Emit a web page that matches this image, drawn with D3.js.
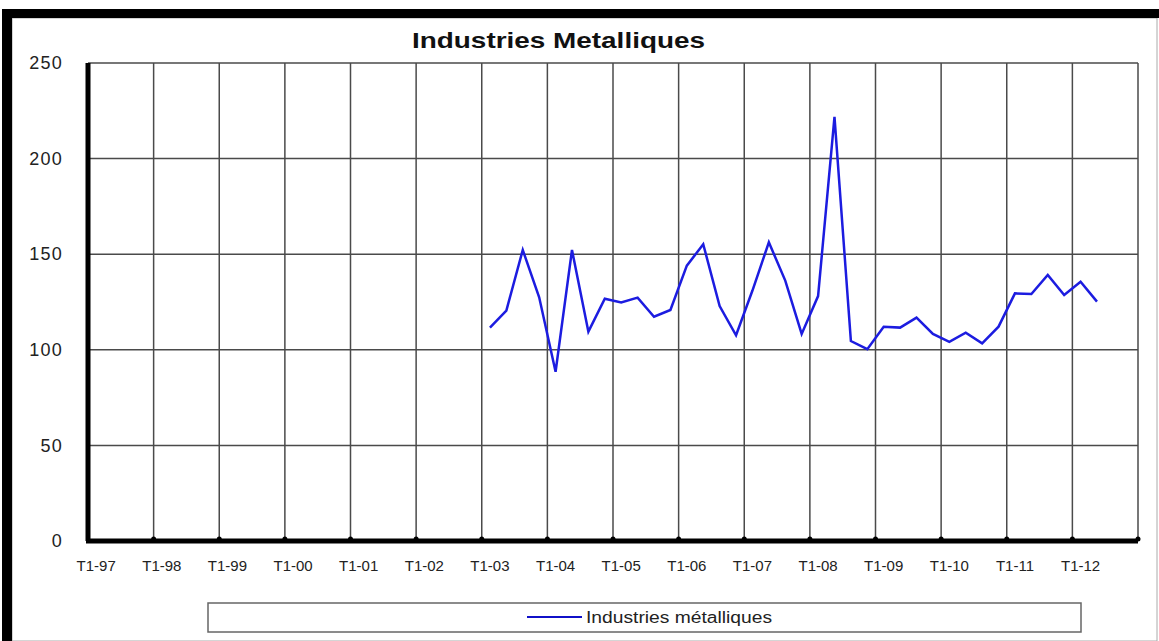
<!DOCTYPE html>
<html>
<head>
<meta charset="utf-8">
<script src="https://cdn.jsdelivr.net/npm/d3@7"></script>
<style>
  body { margin: 0; background: #fff; }
  svg { display: block; font-family: "Liberation Sans", Arial, sans-serif; }
</style>
</head>
<body>
<div class="content"></div>
<script>
// Chart data
var years = ["97", "98", "99", "00", "01", "02", "03", "04", "05", "06", "07", "08", "09", "10", "11", "12"];
var quarterNames = ["T1", "T2", "T3", "T4"];
var tickLabels = ["T1-97", "T1-98", "T1-99", "T1-00", "T1-01", "T1-02", "T1-03", "T1-04",
  "T1-05", "T1-06", "T1-07", "T1-08", "T1-09", "T1-10", "T1-11", "T1-12"];
var yTicks = [0, 50, 100, 150, 200, 250];
var seriesName = "Industries métalliques";
var firstQuarter = "T1-03";
// quarterly values from T1-03 to T2-12
var values = [111.6, 120.5, 152.2, 127.5, 88.5, 152.2, 109.5, 126.7,
  124.8, 127.3, 117.3, 120.8, 144.0, 155.2, 122.9, 107.6,
  131.0, 156.2, 136.2, 108.3, 128.1, 221.8, 104.6, 100.3,
  112.1, 111.6, 116.8, 108.3, 104.2, 109.0, 103.4, 112.1,
  129.5, 129.2, 139.1, 128.7, 135.6, 125.2];

// SVG area
var svgWidth = 1159;
var svgHeight = 641;

var plot = { left: 88, right: 1138, top: 63, bottom: 541 };

var svg = d3.select(".content")
  .append("svg")
  .attr("width", svgWidth)
  .attr("height", svgHeight);

// outer frame (black bars top and left, thin grey border)
svg.append("rect")
  .attr("x", 12).attr("y", 18)
  .attr("width", svgWidth - 14).attr("height", svgHeight - 18)
  .attr("fill", "#fff")
  .attr("stroke", "#aaa")
  .attr("stroke-width", 1);
svg.append("rect")
  .attr("x", 2).attr("y", 9)
  .attr("width", svgWidth - 2).attr("height", 9)
  .attr("fill", "#000");
svg.append("rect")
  .attr("x", 2).attr("y", 9)
  .attr("width", 10).attr("height", svgHeight - 9)
  .attr("fill", "#000");

// all quarter categories
var categories = [];
years.forEach(function(y) {
  quarterNames.forEach(function(q) { categories.push(q + "-" + y); });
});

var data = values.map(function(v, i) {
  return { cat: categories[categories.indexOf(firstQuarter) + i], value: v };
});

var xScale = d3.scaleBand()
  .domain(categories)
  .range([plot.left, plot.right])
  .padding(0);

var yScale = d3.scaleLinear()
  .domain([0, 250])
  .range([plot.bottom, plot.top]);

// horizontal gridlines
svg.append("g")
  .selectAll("line")
  .data(yTicks.filter(function(d) { return d > 0; }))
  .enter()
  .append("line")
  .attr("x1", plot.left)
  .attr("x2", plot.right)
  .attr("y1", function(d) { return yScale(d); })
  .attr("y2", function(d) { return yScale(d); })
  .attr("stroke", "#4a4a4a")
  .attr("stroke-width", 1.5);

// vertical gridlines at each year (plus the right edge)
var yearEdges = tickLabels.slice(1).map(function(t) { return xScale(t); }).concat([plot.right]);
svg.append("g")
  .selectAll("line")
  .data(yearEdges)
  .enter()
  .append("line")
  .attr("x1", function(d) { return d; })
  .attr("x2", function(d) { return d; })
  .attr("y1", plot.top)
  .attr("y2", plot.bottom)
  .attr("stroke", "#4a4a4a")
  .attr("stroke-width", 1.5);

// y axis
var leftAxis = d3.axisLeft(yScale)
  .tickValues(yTicks)
  .tickSize(0)
  .tickPadding(25);
var yAxis = svg.append("g")
  .attr("transform", "translate(" + plot.left + ",0)")
  .call(leftAxis);
yAxis.select(".domain")
  .attr("stroke", "#000")
  .attr("stroke-width", 5)
  .attr("d", "M0," + (plot.top) + "V" + plot.bottom);
yAxis.selectAll("text")
  .attr("font-size", 18)
  .attr("letter-spacing", 1.2)
  .attr("fill", "#222")
  .attr("font-family", "Liberation Sans, Arial, sans-serif");

// x axis
var bottomAxis = d3.axisBottom(xScale)
  .tickValues(tickLabels)
  .tickSize(0)
  .tickPadding(19);
var xAxis = svg.append("g")
  .attr("transform", "translate(0," + plot.bottom + ")")
  .call(bottomAxis);
xAxis.select(".domain")
  .attr("stroke", "#000")
  .attr("stroke-width", 5)
  .attr("d", "M" + (plot.left - 2) + ",0H" + plot.right);
xAxis.selectAll("text")
  .attr("font-size", 15)
  .attr("fill", "#222")
  .attr("font-family", "Liberation Sans, Arial, sans-serif");

// small tick dots on the x axis at each year boundary
svg.append("g")
  .selectAll("circle")
  .data(yearEdges)
  .enter()
  .append("circle")
  .attr("cx", function(d) { return d; })
  .attr("cy", plot.bottom - 2)
  .attr("r", 2.5)
  .attr("fill", "#000");

// data line
var line = d3.line()
  .x(function(d) { return xScale(d.cat) + xScale.bandwidth() / 2; })
  .y(function(d) { return yScale(d.value); });

svg.append("path")
  .datum(data)
  .attr("fill", "none")
  .attr("stroke", "#1c1ce0")
  .attr("stroke-width", 2.5)
  .attr("stroke-linejoin", "miter")
  .attr("d", line);

// title
svg.append("text")
  .attr("x", 412)
  .attr("y", 48)
  .attr("font-size", 22)
  .attr("font-weight", "bold")
  .attr("fill", "#111")
  .attr("textLength", 293)
  .attr("lengthAdjust", "spacingAndGlyphs")
  .text("Industries Metalliques");

// legend
var legend = svg.append("g");
legend.append("rect")
  .attr("x", 208).attr("y", 603)
  .attr("width", 873).attr("height", 29)
  .attr("fill", "#fff")
  .attr("stroke", "#666")
  .attr("stroke-width", 1.5);
legend.append("line")
  .attr("x1", 527).attr("x2", 582)
  .attr("y1", 617).attr("y2", 617)
  .attr("stroke", "#1010c8")
  .attr("stroke-width", 2);
legend.append("text")
  .attr("x", 586)
  .attr("y", 623)
  .attr("font-size", 16)
  .attr("fill", "#222")
  .attr("textLength", 186)
  .attr("lengthAdjust", "spacingAndGlyphs")
  .text(seriesName);
</script>
</body>
</html>
